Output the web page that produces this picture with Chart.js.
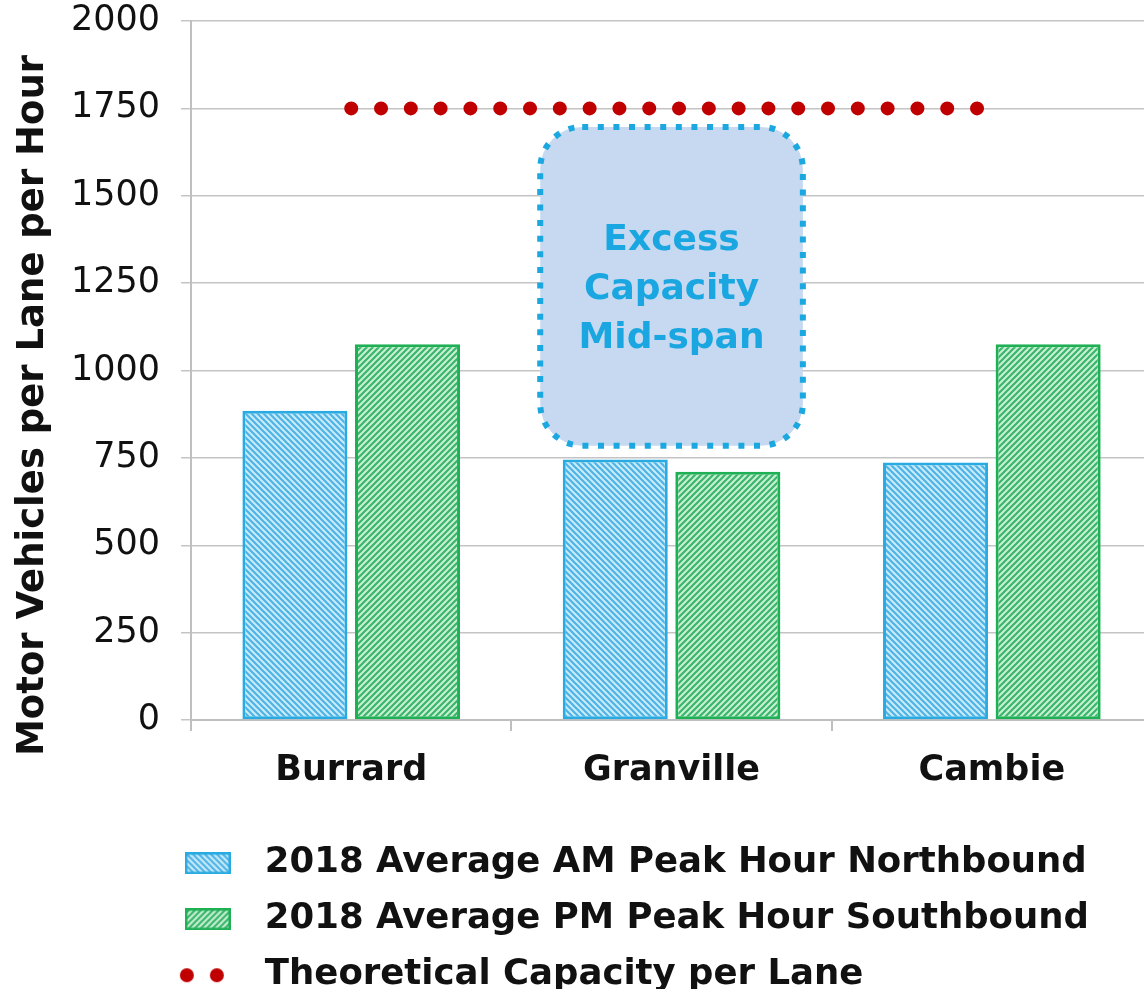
<!DOCTYPE html>
<html>
<head>
<meta charset="utf-8">
<script src="https://cdn.jsdelivr.net/npm/chart.js@4.4.1/dist/chart.umd.min.js"></script>
<style>
  html, body { margin: 0; padding: 0; background: #fff; overflow: hidden; }
  #wrap { width: 1152px; height: 1000px; }
</style>
</head>
<body>
<div id="wrap"><canvas id="chart"></canvas></div>
<script>
// ---------- Data ----------
const categories = ['Burrard', 'Granville', 'Cambie'];
const amNorthbound = [885, 745, 737];
const pmSouthbound = [1075, 710, 1075];
const capacity = [1750, 1750, 1750];
const yTicks = [0, 250, 500, 750, 1000, 1250, 1500, 1750, 2000];
const seriesLabels = [
  '2018 Average AM Peak Hour Northbound',
  '2018 Average PM Peak Hour Southbound',
  'Theoretical Capacity per Lane'
];
const yTitle = 'Motor Vehicles per Lane per Hour';
const calloutLines = ['Excess', 'Capacity', 'Mid-span'];

// callout box, in axis units (category index / vehicles)
const calloutX = [0.59, 1.41];
const calloutY = [785, 1697];

// ---------- Colours ----------
const BLUE = { border: '#29abe2', line: '#4fb3e6', bg: '#c9ecfa' };
const GREEN = { border: '#1fb055', line: '#3bb56b', bg: '#c8f0d4' };
const RED = '#c00000';

const canvas = document.getElementById('chart');
const mainCtx = canvas.getContext('2d');

// diagonal hatch tile
function hatchTile(c, dir) {
  const s = 6;
  const t = document.createElement('canvas');
  t.width = s; t.height = s;
  const g = t.getContext('2d');
  g.fillStyle = c.bg; g.fillRect(0, 0, s, s);
  g.strokeStyle = c.line; g.lineWidth = 2.2;
  g.beginPath();
  if (dir === 'down') {
    g.moveTo(-1, -1); g.lineTo(s + 1, s + 1);
    g.moveTo(-1, s - 1); g.lineTo(1, s + 1);
    g.moveTo(s - 1, -1); g.lineTo(s + 1, 1);
  } else {
    g.moveTo(-1, s + 1); g.lineTo(s + 1, -1);
    g.moveTo(-1, 1); g.lineTo(1, -1);
    g.moveTo(s - 1, s + 1); g.lineTo(s + 1, s - 1);
  }
  g.stroke();
  return t;
}
const blueTile = hatchTile(BLUE, 'down');
const greenTile = hatchTile(GREEN, 'up');

// ---------- Legend swatches ----------
function rectSwatch(tile, c) {
  const sw = document.createElement('canvas');
  sw.width = 46; sw.height = 22;
  const g = sw.getContext('2d');
  g.fillStyle = g.createPattern(tile, 'repeat');
  g.fillRect(0, 0, 46, 22);
  g.strokeStyle = c.border; g.lineWidth = 2.5;
  g.strokeRect(1.25, 1.25, 43.5, 19.5);
  return sw;
}
function dotSwatch() {
  const sw = document.createElement('canvas');
  sw.width = 60; sw.height = 18;
  const g = sw.getContext('2d');
  g.fillStyle = RED;
  [9, 39].forEach(cx => { g.beginPath(); g.arc(cx, 9, 7, 0, Math.PI * 2); g.fill(); });
  return sw;
}
const swatches = [rectSwatch(blueTile, BLUE), rectSwatch(greenTile, GREEN), dotSwatch()];

// ---------- Plugins ----------
const calloutPlugin = {
  id: 'callout',
  afterDatasetsDraw(chart) {
    const { ctx, scales: { x, y } } = chart;
    const l = x.getPixelForValue(calloutX[0]), r = x.getPixelForValue(calloutX[1]);
    const t = y.getPixelForValue(calloutY[1]), b = y.getPixelForValue(calloutY[0]);
    ctx.save();
    ctx.beginPath();
    ctx.roundRect(l, t, r - l, b - t, 42);
    ctx.fillStyle = '#c6d9f0';
    ctx.fill();
    ctx.setLineDash([6, 9.6]);
    ctx.lineWidth = 6;
    ctx.strokeStyle = '#1ba8e0';
    ctx.stroke();
    ctx.setLineDash([]);
    ctx.fillStyle = '#1aa6e0';
    ctx.font = 'bold 36px "DejaVu Sans"';
    ctx.textAlign = 'center';
    ctx.textBaseline = 'middle';
    const cx = (l + r) / 2, cy = (t + b) / 2;
    calloutLines.forEach((s, i) => ctx.fillText(s, cx, cy + (i - 1) * 49 + 3));
    ctx.restore();
  }
};

// y title sits a little below the plot centre in the original
const yTitlePlugin = {
  id: 'yTitle',
  afterDraw(chart) {
    const { ctx, chartArea } = chart;
    ctx.save();
    ctx.translate(33, (chartArea.top + chartArea.bottom) / 2 + 35);
    ctx.rotate(-Math.PI / 2);
    ctx.font = 'bold 37px "DejaVu Sans"';
    ctx.fillStyle = '#111';
    ctx.textAlign = 'center';
    ctx.textBaseline = 'middle';
    ctx.fillText(yTitle, 0, 0);
    ctx.restore();
  }
};

// legend sits left-aligned under the plot
const legendShift = {
  id: 'legendShift',
  afterLayout(chart) {
    chart.legend.left = chart.chartArea.left - 43;
    chart.legend.top = chart.chartArea.bottom + 105;
  }
};

// ---------- Chart ----------
new Chart(mainCtx, {
  data: {
    labels: categories,
    datasets: [
      {
        type: 'bar', label: seriesLabels[0], data: amNorthbound,
        backgroundColor: mainCtx.createPattern(blueTile, 'repeat'),
        borderColor: BLUE.border, borderWidth: 3, borderSkipped: false,
        categoryPercentage: 0.703, barPercentage: 0.933, order: 2
      },
      {
        type: 'bar', label: seriesLabels[1], data: pmSouthbound,
        backgroundColor: mainCtx.createPattern(greenTile, 'repeat'),
        borderColor: GREEN.border, borderWidth: 3, borderSkipped: false,
        categoryPercentage: 0.703, barPercentage: 0.933, order: 2
      },
      {
        type: 'line', label: seriesLabels[2], data: capacity,
        borderColor: RED, borderWidth: 14, borderDash: [0, 29.8],
        borderCapStyle: 'round', pointRadius: 0, fill: false, order: 0
      }
    ]
  },
  options: {
    responsive: true,
    maintainAspectRatio: false,
    animation: false,
    devicePixelRatio: 1,
    layout: { padding: { top: 21, bottom: 11, left: 50, right: 0 } },
    scales: {
      x: {
        grid: { drawOnChartArea: false, tickLength: 11, color: '#bfbfbf', lineWidth: 2 },
        border: { color: '#bfbfbf', width: 2 },
        ticks: { color: '#111', padding: 19, font: { family: 'DejaVu Sans', size: 35, weight: 'bold' } }
      },
      y: {
        min: 0, max: 2000,
        afterBuildTicks: axis => { axis.ticks = yTicks.map(v => ({ value: v })); },
        afterFit: axis => { axis.paddingTop = 0; },
        grid: { color: '#c4c4c4', lineWidth: 1.5, tickLength: 10 },
        border: { color: '#bfbfbf', width: 2 },
        ticks: {
          color: '#111', padding: 21, callback: v => String(v),
          font: { family: 'DejaVu Sans', size: 35 }
        }
      }
    },
    plugins: {
      tooltip: { enabled: false },
      legend: {
        position: 'bottom',
        align: 'start',
        labels: {
          usePointStyle: true,
          pointStyleWidth: 78.5,
          padding: 20.5,
          color: '#111',
          font: { family: 'DejaVu Sans', size: 35.5, weight: 'bold' },
          generateLabels: chart => chart.data.datasets.map((ds, i) => ({
            text: ds.label, pointStyle: swatches[i], datasetIndex: i,
            fillStyle: 'transparent', strokeStyle: 'transparent', lineWidth: 0,
            hidden: false, fontColor: '#111'
          }))
        }
      }
    }
  },
  plugins: [calloutPlugin, yTitlePlugin, legendShift]
});
</script>
</body>
</html>
